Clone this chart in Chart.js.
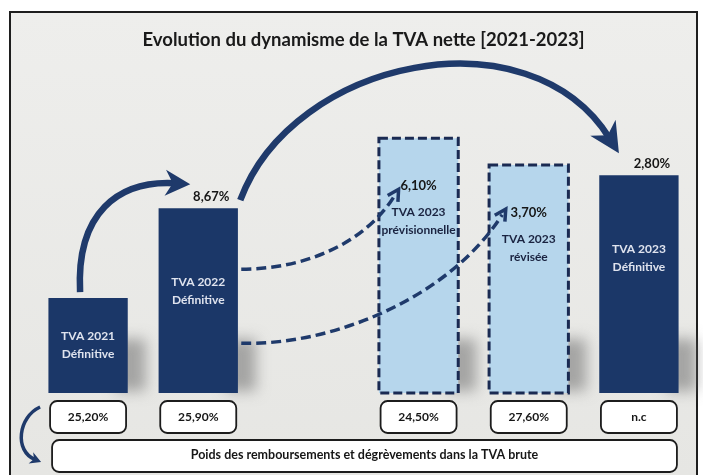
<!DOCTYPE html>
<html><head><meta charset="utf-8">
<script src="https://cdn.jsdelivr.net/npm/chart.js@4.4.0/dist/chart.umd.min.js"></script>
<style>html,body{margin:0;padding:0;background:#fff}#wrap{width:703px;height:475px;position:relative}</style>
</head><body><div id="wrap"><canvas id="c"></canvas></div>
<script>
// ---- data ----
const chartTitle = "Evolution du dynamisme de la TVA nette [2021-2023]";
const categories = ["TVA 2021", "TVA 2022", "", "TVA 2023", "TVA 2023", "TVA 2023"];
const subLabels = ["Définitive", "Définitive", "", "prévisionnelle", "révisée", "Définitive"];
const statuses = ["definitive", "definitive", "", "forecast", "forecast", "definitive"];
const growthLabels = ["", "8,67%", "", "6,10%", "3,70%", "2,80%"];
// illustrative bar heights (the picture's bars are not drawn to scale)
const barHeights = [32.2, 62.7, null, 86.4, 77.3, 73.9];
const refundShares = ["25,20%", "25,90%", "", "24,50%", "27,60%", "n.c"];
const footnote = "Poids des remboursements et dégrèvements dans la TVA brute";

const NAVY = '#1b3768', LIGHT = '#b6d6ec', ARROW = '#1f3a6b';

function roundRect(ctx, x, y, w, h, r) {
  ctx.beginPath();
  ctx.moveTo(x + r, y);
  ctx.arcTo(x + w, y, x + w, y + h, r);
  ctx.arcTo(x + w, y + h, x, y + h, r);
  ctx.arcTo(x, y + h, x, y, r);
  ctx.arcTo(x, y, x + w, y, r);
  ctx.closePath();
}
function arrowHead(ctx, tipX, tipY, angle, len, wid, filled) {
  ctx.save();
  ctx.translate(tipX, tipY);
  ctx.rotate(angle);
  ctx.beginPath();
  if (filled) {
    ctx.moveTo(0, 0);
    ctx.lineTo(-len, -wid);
    ctx.lineTo(-len * 0.7, 0);
    ctx.lineTo(-len, wid);
    ctx.closePath();
    ctx.fill();
  } else {
    ctx.setLineDash([]);
    ctx.moveTo(-len, -wid);
    ctx.lineTo(0, 0);
    ctx.lineTo(-len, wid);
    ctx.stroke();
  }
  ctx.restore();
}
function curve(ctx, p0, c1, c2, p1, width, dash, headLen, headWid, filled) {
  ctx.save();
  ctx.strokeStyle = ARROW; ctx.fillStyle = ARROW;
  ctx.lineWidth = width; ctx.lineCap = 'butt';
  ctx.setLineDash(dash);
  const ang = Math.atan2(p1[1] - c2[1], p1[0] - c2[0]);
  const ex = p1[0] - Math.cos(ang) * headLen * 0.6, ey = p1[1] - Math.sin(ang) * headLen * 0.6;
  ctx.beginPath();
  ctx.moveTo(p0[0], p0[1]);
  ctx.bezierCurveTo(c1[0], c1[1], c2[0], c2[1], ex, ey);
  ctx.stroke();
  ctx.setLineDash([]);
  arrowHead(ctx, p1[0], p1[1], ang, headLen, headWid, filled);
  ctx.restore();
}

const framePlugin = {
  id: 'frame',
  beforeDraw(chart) {
    const ctx = chart.ctx;
    ctx.save();
    ctx.fillStyle = '#ffffff';
    ctx.fillRect(0, 0, chart.width, chart.height);
    const bg = ctx.createLinearGradient(0, 12, 0, 475);
    bg.addColorStop(0, '#eeeeec');
    bg.addColorStop(1, '#e6e6e3');
    ctx.fillStyle = bg;
    ctx.fillRect(10, 12, 687, 470);
    ctx.strokeStyle = '#1e1e1e';
    ctx.lineWidth = 2;
    ctx.strokeRect(10, 12, 687, 470);
    ctx.restore();
  },
  beforeDatasetsDraw(chart) {
    const ctx = chart.ctx;
    const meta = chart.getDatasetMeta(0);
    meta.data.forEach((el, i) => {
      if (barHeights[i] == null) return;
      ctx.save();
      const x0 = el.x + el.width / 2;
      ctx.shadowColor = 'rgba(110,110,110,0.55)';
      ctx.shadowBlur = 14;
      ctx.shadowOffsetX = 2000;
      ctx.fillStyle = '#000';
      ctx.fillRect(x0 - 12 - 2000, el.base - 54, 30, 52);
      ctx.restore();
    });
  }
};

const annotPlugin = {
  id: 'annot',
  afterDatasetsDraw(chart) {
    const ctx = chart.ctx;
    const meta = chart.getDatasetMeta(0);
    const b = meta.data;
    ctx.save();
    // dashed borders on forecast bars
    b.forEach((el, i) => {
      if (statuses[i] !== 'forecast') return;
      ctx.strokeStyle = '#1a2a52';
      ctx.lineWidth = 3;
      ctx.setLineDash([9, 4]);
      ctx.strokeRect(el.x - el.width / 2, el.y, el.width, el.base - el.y);
    });
    ctx.setLineDash([]);
    // labels inside bars
    ctx.textAlign = 'center';
    ctx.textBaseline = 'middle';
    b.forEach((el, i) => {
      if (barHeights[i] == null) return;
      const fc = statuses[i] === 'forecast';
      const cy = Math.min(el.y + 83, (el.y + el.base) / 2);
      ctx.fillStyle = fc ? '#1a2340' : '#dfe3ee';
      ctx.font = 'bold 12px Lato';
      ctx.fillText(categories[i], el.x, cy - 9);
      ctx.fillText(subLabels[i], el.x, cy + 9);
      // growth labels
      if (growthLabels[i]) {
        ctx.font = 'bold 13px Lato';
        ctx.fillStyle = '#161616';
        if (fc) ctx.fillText(growthLabels[i], el.x, el.y + 48);
        else ctx.fillText(growthLabels[i], el.x + 13, el.y - 11);
      }
    });
    // solid arrows
    curve(ctx, [b[0].x - 8, b[0].y - 6], [b[0].x - 12, b[0].y - 85], [b[0].x + 30, b[0].y - 118], [b[1].x - 8, b[1].y - 24], 6.5, [], 25, 13, true);
    curve(ctx, [b[1].x + 42, b[1].y - 8], [b[1].x + 95, b[1].y - 150], [b[5].x - 110, b[5].y - 165], [b[5].x - 20, b[5].y - 22], 6.5, [], 30, 15, true);
    // dashed arrows
    curve(ctx, [b[1].x + 43, b[1].y + 61], [b[1].x + 110, b[1].y + 61], [b[3].x - 52, b[3].y + 103], [b[3].x - 20, b[3].y + 51], 3.5, [10, 5], 11, 6, false);
    curve(ctx, [b[1].x + 43, b[1].y + 135], [b[1].x + 130, b[1].y + 138], [b[4].x - 81, b[4].y + 135], [b[4].x - 23, b[4].y + 44], 3.5, [10, 5], 11, 6, false);
    // bottom boxes
    ctx.font = 'bold 12px Lato';
    b.forEach((el, i) => {
      if (!refundShares[i]) return;
      ctx.fillStyle = '#ffffff';
      ctx.strokeStyle = '#1c1c1c';
      ctx.lineWidth = 1.8;
      roundRect(ctx, el.x - 38, el.base + 8, 76, 32, 7);
      ctx.fill(); ctx.stroke();
      ctx.fillStyle = '#161616';
      ctx.fillText(refundShares[i], el.x, el.base + 24);
    });
    const bs = b[0].base;
    const L = b[0].x - 36, R = b[5].x + 38;
    ctx.fillStyle = '#ffffff';
    roundRect(ctx, L, bs + 47, R - L, 32, 7);
    ctx.fill(); ctx.stroke();
    ctx.fillStyle = '#161616';
    ctx.font = 'bold 12.5px Lato';
    ctx.fillText(footnote, (L + R) / 2, bs + 62);
    // left curved arrow
    curve(ctx, [L - 12, bs + 14], [L - 34, bs + 24], [L - 38, bs + 58], [L - 11, bs + 69], 3.5, [], 11, 6, true);
    ctx.restore();
  }
};

new Chart(document.getElementById('c'), {
  type: 'bar',
  data: {
    labels: categories.map((c, i) => c + ' ' + subLabels[i]),
    datasets: [{
      data: barHeights,
      backgroundColor: statuses.map(s => s === 'forecast' ? LIGHT : NAVY),
      borderWidth: 0,
      barPercentage: 0.72,
      categoryPercentage: 1
    }]
  },
  options: {
    responsive: true,
    maintainAspectRatio: false,
    animation: false,
    layout: { padding: { left: 33, right: 9, top: 0, bottom: 82 } },
    plugins: {
      legend: { display: false },
      tooltip: { enabled: false },
      title: {
        display: true,
        text: chartTitle,
        color: '#1a1a1a',
        font: { family: 'Lato', size: 18.5, weight: 'bold', lineHeight: 1.2 },
        padding: { top: 29, bottom: 47 }
      }
    },
    scales: {
      x: { display: false },
      y: { display: false, min: 0, max: 100 }
    }
  },
  plugins: [framePlugin, annotPlugin]
});
</script>
</body></html>
